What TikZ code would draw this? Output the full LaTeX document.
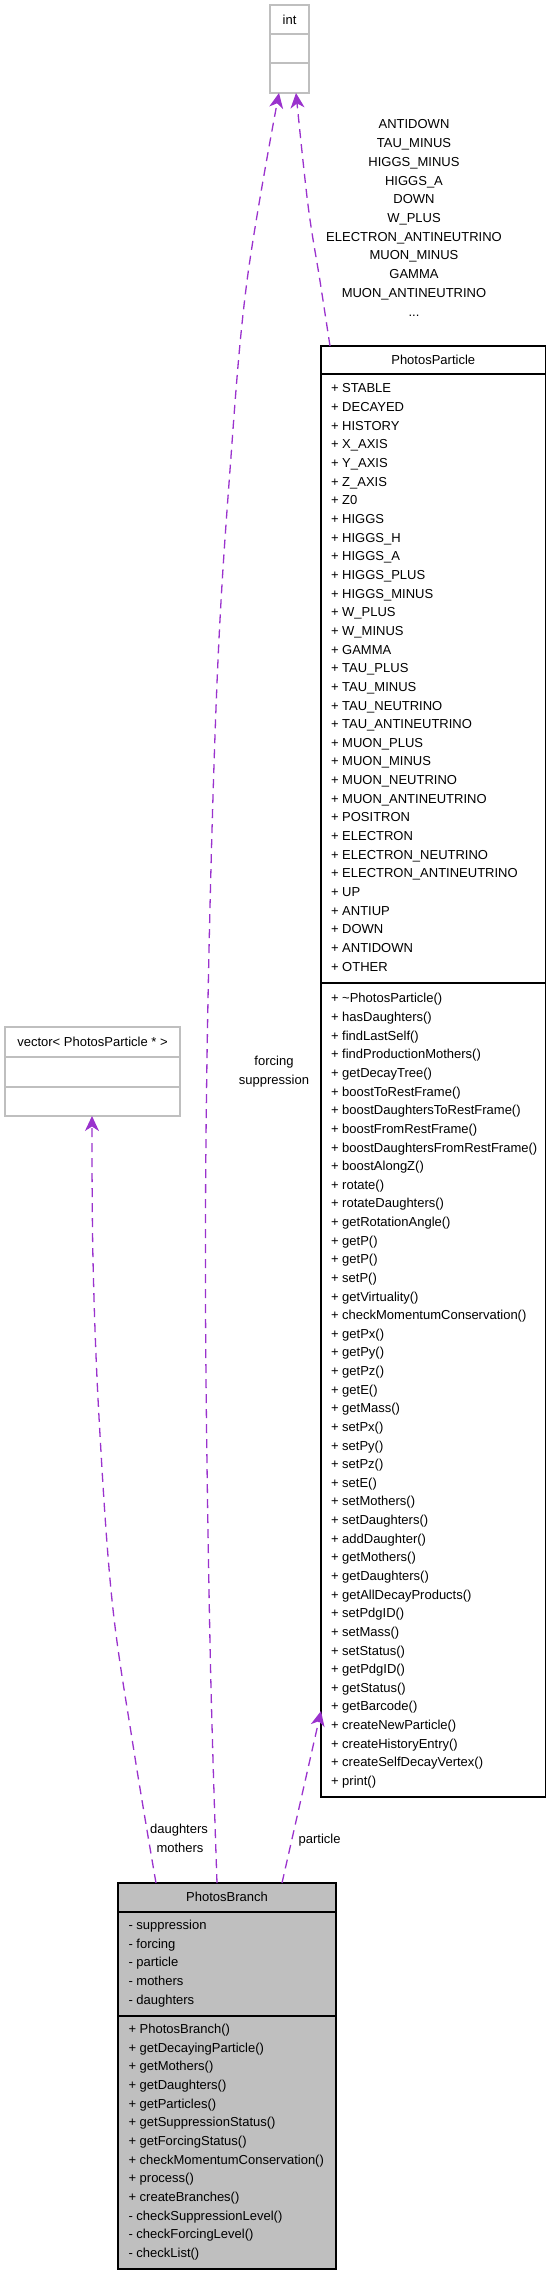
\documentclass[tikz,border=0pt]{standalone}
\usepackage{fontspec}
\setmainfont{Liberation Sans}
\usetikzlibrary{arrows.meta,calc}
\definecolor{depcol}{HTML}{9A32CD}
\definecolor{boxgray}{HTML}{BFBFBF}
\begin{document}
\begin{tikzpicture}[x=1pt,y=-1pt,
  txt/.style={inner sep=0pt, outer sep=0pt, font=\fontsize{13}{15}\selectfont, text height=9.3pt, text depth=0pt},
  rowtext/.style={txt, anchor=west},
  graybox/.style={anchor=north west, draw=boxgray, line width=1.3pt, inner sep=0pt, outer sep=0pt, fill=white},
  blackbox/.style={anchor=north west, draw=black, line width=1.5pt, inner sep=0pt, outer sep=0pt},
  grayline/.style={draw=boxgray, line width=1.3pt},
  blackline/.style={draw=black, line width=1.5pt},
  deparrow/.style={draw=depcol, line width=1.3pt, dash pattern=on 9pt off 6pt,
    -{Stealth[length=15pt,width=14pt,inset=4.5pt,fill=depcol]}}
]
\useasboundingbox (0,0) rectangle (551,2275);

% ---- int ----
\node[graybox, minimum width=39pt, minimum height=88pt] (int) at (270,5) {};
\draw[grayline] (270,34) -- (309,34);
\draw[grayline] (270,63) -- (309,63);
\node[txt] (intT) at (289.5,19.5) {int};

% ---- vector ----
\node[graybox, minimum width=175pt, minimum height=89pt] (vec) at (5,1027) {};
\draw[grayline] (5,1057) -- (180,1057);
\draw[grayline] (5,1087) -- (180,1087);
\node[txt] (vecT) at (92.5,1041.5) {vector< PhotosParticle * >};

% ---- PhotosParticle ----
\node[blackbox, fill=white, minimum width=224.5pt, minimum height=1451pt] (pp) at (321,346) {};
\draw[blackline] (321,374) -- (545.5,374);
\draw[blackline] (321,983) -- (545.5,983);
\node[txt] (ppT) at (433.25,360) {PhotosParticle};
\foreach \t [count=\i from 0] in {STABLE,DECAYED,HISTORY,X\_AXIS,Y\_AXIS,Z\_AXIS,Z0,HIGGS,HIGGS\_H,HIGGS\_A,HIGGS\_PLUS,HIGGS\_MINUS,W\_PLUS,W\_MINUS,GAMMA,TAU\_PLUS,TAU\_MINUS,TAU\_NEUTRINO,TAU\_ANTINEUTRINO,MUON\_PLUS,MUON\_MINUS,MUON\_NEUTRINO,MUON\_ANTINEUTRINO,POSITRON,ELECTRON,ELECTRON\_NEUTRINO,ELECTRON\_ANTINEUTRINO,UP,ANTIUP,DOWN,ANTIDOWN,OTHER}
  \node[rowtext] (ppa\i) at (331,{388.3+\i*18.65}) {+ \t};
\foreach \t [count=\i from 0] in {\textasciitilde PhotosParticle(),hasDaughters(),findLastSelf(),findProductionMothers(),getDecayTree(),boostToRestFrame(),boostDaughtersToRestFrame(),boostFromRestFrame(),boostDaughtersFromRestFrame(),boostAlongZ(),rotate(),rotateDaughters(),getRotationAngle(),getP(),getP(),setP(),getVirtuality(),checkMomentumConservation(),getPx(),getPy(),getPz(),getE(),getMass(),setPx(),setPy(),setPz(),setE(),setMothers(),setDaughters(),addDaughter(),getMothers(),getDaughters(),getAllDecayProducts(),setPdgID(),setMass(),setStatus(),getPdgID(),getStatus(),getBarcode(),createNewParticle(),createHistoryEntry(),createSelfDecayVertex(),print()}
  \node[rowtext] (ppm\i) at (331,{998.3+\i*18.63}) {+ \t};

% ---- PhotosBranch ----
\node[blackbox, fill=boxgray, minimum width=218pt, minimum height=386pt] (pb) at (118,1883) {};
\draw[blackline] (118,1912) -- (336,1912);
\draw[blackline] (118,2016) -- (336,2016);
\node[txt] (pbT) at (227,1896.5) {PhotosBranch};
\foreach \t [count=\i from 0] in {suppression,forcing,particle,mothers,daughters}
  \node[rowtext] (pba\i) at (128.5,{1925+\i*18.6}) {- \t};
\foreach \t [count=\i from 0] in {+ PhotosBranch(),+ getDecayingParticle(),+ getMothers(),+ getDaughters(),+ getParticles(),+ getSuppressionStatus(),+ getForcingStatus(),+ checkMomentumConservation(),+ process(),+ createBranches(),- checkSuppressionLevel(),- checkForcingLevel(),- checkList()}
  \node[rowtext] (pbm\i) at (128.5,{2028.7+\i*18.67}) {\t};

% ---- connector end points ----
\coordinate (intL) at ($(int.south west)+(9,0)$);
\coordinate (intR) at ($(int.south west)+(26,0)$);
\coordinate (vecB) at ($(vec.south west)+(87,0)$);
\coordinate (ppTop) at ($(pp.north west)+(9,0)$);
\coordinate (ppL) at ($(pp.north west)+(0,1365)$);
\coordinate (pbD) at ($(pb.north west)+(38,0)$);
\coordinate (pbF) at ($(pb.north west)+(99,0)$);
\coordinate (pbP) at ($(pb.north west)+(164,0)$);

% ---- connectors ----
\draw[deparrow] plot[smooth, tension=0.6] coordinates {(pbF) (210,1643) (205.5,1300) (208,1000) (217,683) (230,470) (247,281) (intL)};
\draw[deparrow] plot[smooth, tension=0.6] coordinates {(ppTop) (320,281) (308,205) (intR)};
\draw[deparrow] plot[smooth, tension=0.6] coordinates {(pbD) (133,1745) (112,1600) (99,1417) (93,1260) (vecB)};
\draw[deparrow] (pbP) -- (ppL);

% ---- labels ----
\foreach \t [count=\i from 0] in {ANTIDOWN,TAU\_MINUS,HIGGS\_MINUS,HIGGS\_A,DOWN,W\_PLUS,ELECTRON\_ANTINEUTRINO,MUON\_MINUS,GAMMA,MUON\_ANTINEUTRINO}
  \node[txt] (lab\i) at (414,{124.3+\i*18.71}) {\t};
\node[txt] (labDots) at (414,311.4) {...};
\node[txt] (labF) at (274,1061) {forcing};
\node[txt] (labS) at (274,1080) {suppression};
\node[txt] (labD) at (179,1829) {daughters};
\node[txt] (labM) at (180,1848) {mothers};
\node[txt, anchor=west] (labP) at (298.7,1839) {particle};
\end{tikzpicture}
\end{document}
